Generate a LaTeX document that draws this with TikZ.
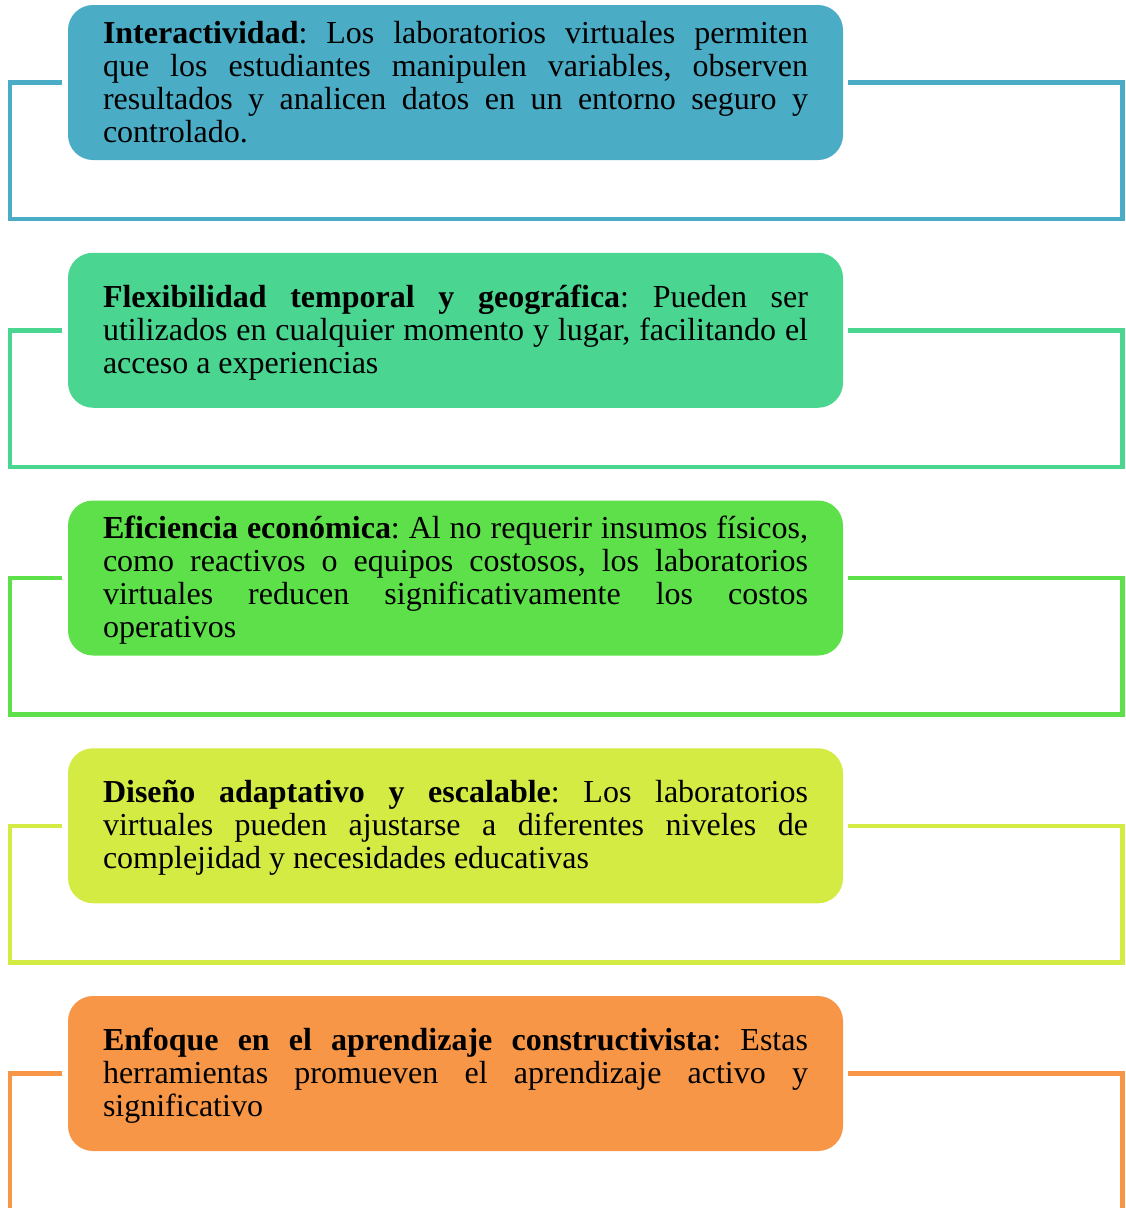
\documentclass[tikz,border=0pt]{standalone}
\usepackage{fontspec}
\setmainfont{Liberation Serif}
\definecolor{cA}{RGB}{75,172,198}
\definecolor{cB}{RGB}{74,213,145}
\definecolor{cC}{RGB}{94,224,74}
\definecolor{cD}{RGB}{212,235,68}
\definecolor{cE}{RGB}{247,150,70}
\newcommand{\cardfont}{\fontsize{32}{33}\selectfont\frenchspacing\hyphenpenalty=10000\relax\exhyphenpenalty=10000\relax}
% fixed ascent of the first line and descent of the last line
\newcommand{\cardtop}{\rule{0pt}{28pt}}
\newcommand{\cardbottom}{\rule[-8pt]{0pt}{0pt}}
\begin{document}
\begin{tikzpicture}[x=1pt,y=-1pt,
  card/.style={fill=#1, rounded corners=25pt, text width=705pt, inner xsep=35pt,
    inner ysep=0pt, minimum height=155pt, align=justify, text=black,
    font=\cardfont, execute at begin node={\cardtop}, execute at end node={\cardbottom}},
  frame/.style={draw=#1, line width=4.5pt}]
\useasboundingbox (0,0) rectangle (1125,1208);
\clip (0,0) rectangle (1125,1208);

% left and right rails of the frames
\coordinate (L) at (10,0);
\coordinate (R) at (1122.5,0);

\node[card=cA] (b1) at (455.5,82.5) {\textbf{Interactividad}: Los laboratorios virtuales permiten\linebreak que los estudiantes manipulen variables, observen\linebreak resultados y analicen datos en un entorno seguro y\linebreak controlado.};
\node[card=cB] (b2) at (455.5,330.25) {\textbf{Flexibilidad temporal y geográfica}: Pueden ser\linebreak utilizados en cualquier momento y lugar, facilitando el\linebreak acceso a experiencias};
\node[card=cC] (b3) at (455.5,578) {\textbf{Eficiencia económica}: Al no requerir insumos físicos,\linebreak como reactivos o equipos costosos, los laboratorios\linebreak virtuales reducen significativamente los costos\linebreak operativos};
\node[card=cD] (b4) at (455.5,825.75) {\textbf{Diseño adaptativo y escalable}: Los laboratorios\linebreak virtuales pueden ajustarse a diferentes niveles de\linebreak complejidad y necesidades educativas};
\node[card=cE] (b5) at (455.5,1073.5) {\textbf{Enfoque en el aprendizaje constructivista}: Estas\linebreak herramientas promueven el aprendizaje activo y\linebreak significativo};

% open frames wrapping each card
\foreach \b/\c in {b1/cA,b2/cB,b3/cC,b4/cD,b5/cE}{
  \draw[frame=\c] ([xshift=-6pt]\b.west) -- (\b.west -| L) -- ++(0,136.5)
    -| (\b.east -| R) -- ([xshift=5pt]\b.east);
}
\end{tikzpicture}
\end{document}
